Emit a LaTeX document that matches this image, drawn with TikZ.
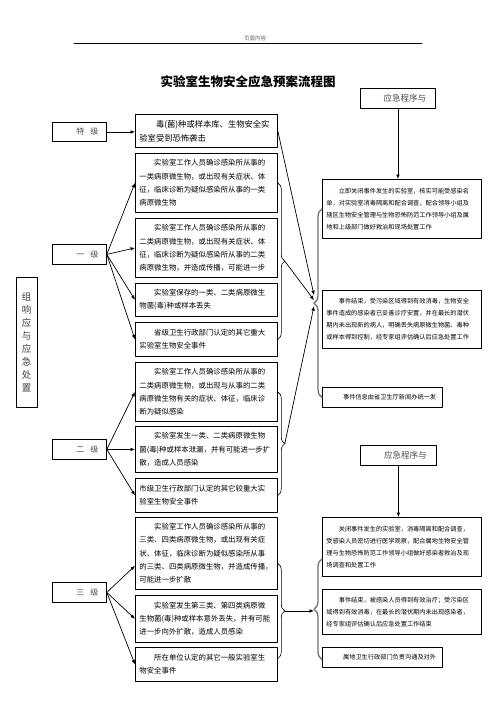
\documentclass[tikz,border=0pt]{standalone}
\usepackage{fontspec}
\setmainfont{Noto Sans CJK SC}
\usetikzlibrary{arrows.meta,calc,decorations.pathreplacing}

\begin{document}
\begin{tikzpicture}[x=1pt,y=-1pt,line cap=round,line join=round,
  frame/.style={draw=black,line width=.8pt},
  link/.style={line width=.7pt,-{Latex[length=4.5pt,width=3.6pt]}},
  evbox/.style={frame,anchor=north west,text width=134pt,inner xsep=4pt,inner ysep=0pt,
    align=left,font=\fontsize{7.4}{13.3}\selectfont},
  actbox/.style={frame,anchor=north west,text width=151pt,inner xsep=4pt,inner ysep=0pt,
    align=left,font=\fontsize{6.2}{12}\selectfont},
  levelbox/.style={frame,anchor=north west,minimum width=54pt,inner sep=0pt,
    text=black!70,font=\fontsize{8}{9}\selectfont},
  procbox/.style={frame,anchor=north west,minimum height=20pt,inner sep=0pt,
    text=black!70,font=\fontsize{8.5}{9}\selectfont},
  lbrace/.style={decorate,decoration={brace,amplitude=7pt},line width=.6pt},
  rbrace/.style={decorate,decoration={brace,amplitude=8pt},draw=black!55,line width=1.3pt}]
\path[fill=white] (0,0) rectangle (496,702);
\useasboundingbox (0,0) rectangle (496,702);

% Page head and title.
\node[font=\fontsize{5.5}{6}\selectfont,text=black!60] (head) at (255,38) {页眉内容};
\draw[line width=.6pt] (74,43) -- (422,43);
\node[font=\fontsize{12.5}{14}\selectfont\bfseries] (title) at (248,82) {实验室生物安全应急预案流程图};

% Levels.
\node[frame,minimum width=21pt,minimum height=130pt,inner sep=0pt,text width=10pt,align=center,
  text=black!75,font=\fontsize{9.5}{13}\selectfont] (resp) at (26.5,342)
  {组\\响\\应\\与\\应\\急\\处\\置};
\node[levelbox,minimum height=19pt] (tj) at (52,122) {\hspace*{16pt}特\hspace{6pt}级};
\node[levelbox,minimum height=20pt] (yj) at (52,244) {\hspace*{16pt}一\hspace{6pt}级};
\node[levelbox,minimum height=20pt] (ej) at (52,439) {\hspace*{16pt}二\hspace{6pt}级};
\node[levelbox,minimum height=20pt] (sj) at (52,582) {\hspace*{16pt}三\hspace{6pt}级};

% Events.
\node[evbox,minimum height=33pt,font=\fontsize{8.3}{14}\selectfont] (evA) at (135,114)
  {\hspace*{2em}毒(菌)种或样本库、生物安全实\\验室受到恐怖袭击};
\node[evbox,minimum height=59pt] (evB) at (135,153)
  {\hspace*{2em}实验室工作人员确诊感染所从事的\\一类病原微生物，或出现有关症状、体\\征，临床诊断为疑似感染所从事的一类\\病原微生物};
\node[evbox,minimum height=59pt] (evC) at (135,218)
  {\hspace*{2em}实验室工作人员确诊感染所从事的\\二类病原微生物，或出现有关症状、体\\征，临床诊断为疑似感染所从事的二类\\病原微生物，并造成传播，可能进一步};
\node[evbox,minimum height=33pt] (evD) at (135,283)
  {\hspace*{2em}实验室保存的一类、二类病原微生\\物菌(毒)种或样本丢失};
\node[evbox,minimum height=34pt] (evE) at (135,322)
  {\hspace*{2em}省级卫生行政部门认定的其它重大\\实验室生物安全事件};
\node[evbox,minimum height=59pt] (evF) at (135,362)
  {\hspace*{2em}实验室工作人员确诊感染所从事的\\二类病原微生物，或出现与从事的二类\\病原微生物有关的症状、体征，临床诊\\断为疑似感染};
\node[evbox,minimum height=46pt] (evG) at (135,426)
  {\hspace*{2em}实验室发生一类、二类病原微生物\\菌(毒)种或样本泄漏，并有可能进一步扩\\散，造成人员感染};
\node[evbox,minimum height=34pt] (evH) at (135,478)
  {市级卫生行政部门认定的其它较重大实\\验室生物安全事件};
\node[evbox,minimum height=72pt] (evI) at (135,517)
  {\hspace*{2em}实验室工作人员确诊感染所从事的\\三类、四类病原微生物，或出现有关症\\状、体征，临床诊断为疑似感染所从事\\的三类、四类病原微生物，并造成传播，\\可能进一步扩散};
\node[evbox,minimum height=47pt] (evJ) at (135,595)
  {\hspace*{2em}实验室发生第三类、第四类病原微\\生物菌(毒)种或样本意外丢失，并有可能\\进一步向外扩散，造成人员感染};
\node[evbox,minimum height=34pt] (evK) at (135,647)
  {\hspace*{2em}所在单位认定的其它一般实验室生\\物安全事件};

% Procedures.
\node[procbox,minimum width=75pt] (hd1) at (360,88) {\hspace*{14pt}应急程序与};
\node[actbox,minimum height=59pt] (rb1) at (322,179)
  {\hspace*{2em}立即关闭事件发生的实验室，核实可能受感染名\\单，对实验室消毒隔离和配合调查，配合领导小组及\\辖区生物安全管理与生物恐怖防范工作领导小组及属\\地和上级部门做好救治和现场处置工作};
\node[actbox,minimum height=58pt] (rb2) at (322,290)
  {\hspace*{2em}事件结束，受污染区域得到有效消毒，生物安全\\事件造成的感染者已妥善诊疗安置，并在最长的潜伏\\期内未出现新的病人，明确丢失病原微生物菌、毒种\\或样本得到控制，经专家组评估确认后应急处置工作};
\node[actbox,text width=112pt,minimum height=20pt] (rb3) at (322,387)
  {\hspace*{2.7em}事件信息由省卫生厅新闻办统一发};
\node[procbox,minimum width=76pt] (hd2) at (360,445) {\hspace*{14pt}应急程序与};
\node[actbox,minimum height=59pt] (rb4) at (322,517)
  {\hspace*{2em}关闭事件发生的实验室，消毒隔离和配合调查，\\受感染人员密切进行医学观察，配合属地生物安全管\\理与生物恐怖防范工作领导小组做好感染者救治及现\\场调查和处置工作};
\node[actbox,minimum height=45pt] (rb5) at (322,589)
  {\hspace*{2em}事件结束，被感染人员得到有效治疗；受污染区\\域得到有效消毒，在最长的潜伏期内未出现感染者，\\经专家组评估确认后应急处置工作结束};
\node[actbox,text width=112pt,minimum height=20pt] (rb6) at (322,647)
  {\hspace*{2.7em}属地卫生行政部门负责沟通及对外};

% Braces.
\draw[lbrace] (evB.east) -- (evE.east);
\coordinate (b1tip) at ($(evB.east)!.5!(evE.east)+(7,0)$);
\draw[lbrace] (evF.east) -- (evH.east);
\coordinate (b2tip) at ($(evF.east)!.5!(evH.east)+(7,0)$);
\coordinate (b3top) at ($(evI.east)+(0,10)$);
\coordinate (b3bot) at ($(evK.east)+(0,-6)$);
\draw[lbrace] (b3top) -- (b3bot);
\coordinate (b3tip) at ($(b3top)!.5!(b3bot)+(7,0)$);
\draw[rbrace] (rb3.west) -- (rb1.west);
\coordinate (r1tip) at ($(rb1.west)!.5!(rb3.west)+(-8,0)$);
\coordinate (r2bot) at ($(rb6.west)+(0,2)$);
\coordinate (r2top) at ($(rb4.west)+(0,12)$);
\draw[rbrace] (r2bot) -- (r2top);
\coordinate (r2tip) at ($(r2bot)!.5!(r2top)+(-8,0)$);

% Arrows.
\draw[link] (tj.east) -- (tj.east -| evA.west);
\foreach \e in {evB,evC,evD,evE}
  \draw[link] (yj.east) -- (\e.west);
\foreach \e in {evF,evG,evH}
  \draw[link] (ej.east) -- (\e.west);
\draw[link] (sj.east) -- ($(evI.north west)!.67!(evI.south west)$);
\foreach \e in {evJ,evK}
  \draw[link] (sj.east) -- (\e.west);
\draw[link] (evA.east) -- ([yshift=8pt]r1tip);
\draw[link] (b1tip) -- ([yshift=3pt]r1tip);
\draw[link] (b2tip) -- ([yshift=-3pt]r1tip);
\draw[link] (b3tip) -- (b3tip -| r2tip);
\draw[link] (hd1.south) -- (hd1.south |- rb1.north);
\draw[link] (hd2.south) -- (hd2.south |- rb4.north);
\end{tikzpicture}
\end{document}
